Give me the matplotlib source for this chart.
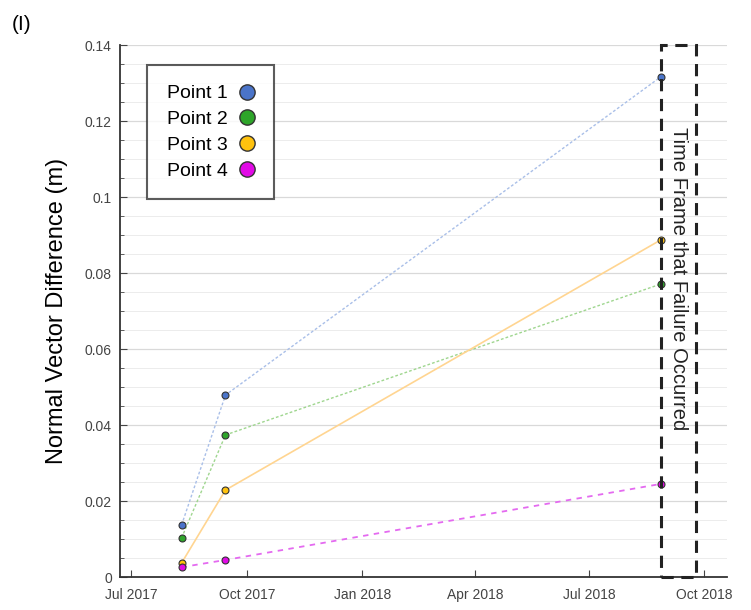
import matplotlib
matplotlib.use("Agg")
import matplotlib.pyplot as plt
import matplotlib.dates as mdates
from matplotlib.ticker import FuncFormatter, MultipleLocator
from matplotlib.patches import Rectangle
import datetime as dt

# survey dates
dates = [dt.date(2017, 8, 10), dt.date(2017, 9, 14), dt.date(2018, 8, 27)]

point1 = [0.0137, 0.0479, 0.1316]
point2 = [0.0103, 0.0374, 0.0771]
point3 = [0.0037, 0.0229, 0.0887]
point4 = [0.0026, 0.0045, 0.0245]

labels = ["Point 1", "Point 2", "Point 3", "Point 4"]
series = [point1, point2, point3, point4]
marker_colors = ["#4a74c9", "#2ea52a", "#ffc20e", "#e10ae6"]
line_colors = ["#a9bfe8", "#9fd68f", "#ffd591", "#e46af0"]
line_styles = [(0, (2, 1.5)), (0, (2, 1.5)), "-", (0, (3, 3))]
line_widths = [1.0, 1.0, 1.2, 1.3]

fail_start = dt.date(2018, 8, 27)
fail_end = dt.date(2018, 9, 24)

plt.rcParams['font.family'] = ['Liberation Sans', 'DejaVu Sans']

fig = plt.figure(figsize=(7.51, 6.10), dpi=100)
ax = fig.add_axes([0.160, 0.054, 0.808, 0.872])

for vals, lab, mc, lc, ls, lw in zip(series, labels, marker_colors, line_colors, line_styles, line_widths):
    ax.plot(dates, vals, color=lc, linestyle=ls, linewidth=lw, zorder=2)
    ax.plot(dates, vals, linestyle="none", marker="o", markersize=5,
            markerfacecolor=mc, markeredgecolor="#333333", markeredgewidth=0.8, zorder=3)

# legend handles: marker only
handles = [ax.plot([], [], linestyle="none", marker="o", markersize=11,
                   markerfacecolor=mc, markeredgecolor="#333333", markeredgewidth=1.0)[0]
           for mc in marker_colors]
leg = ax.legend(handles, labels, loc="upper left", bbox_to_anchor=(0.045, 0.962),
                borderaxespad=0, markerfirst=False, fontsize=14, frameon=True,
                fancybox=False, edgecolor="#333333", handlelength=0.8,
                handletextpad=0.6, labelspacing=0.42, borderpad=1.0)
leg.get_frame().set_linewidth(1.5)

# failure time frame box
x0 = mdates.date2num(fail_start)
x1 = mdates.date2num(fail_end)
rect = Rectangle((x0, 0), x1 - x0, 0.14, fill=False, edgecolor="#222222",
                 linestyle=(0, (4, 2.5)), linewidth=2.2, zorder=4, clip_on=False)
ax.add_patch(rect)
ax.text((x0 + x1) / 2, 0.0785, "Time Frame that Failure Occurred", rotation=-90,
        ha="center", va="center", fontsize=14.5, color="#222222")

ax.set_xlim(dt.date(2017, 6, 22), dt.date(2018, 10, 19))
ax.set_ylim(0, 0.14)

ax.xaxis.set_major_locator(mdates.MonthLocator(bymonth=[1, 4, 7, 10]))
ax.xaxis.set_major_formatter(mdates.DateFormatter("%b %Y"))
ax.yaxis.set_major_locator(MultipleLocator(0.02))
ax.yaxis.set_minor_locator(MultipleLocator(0.005))
ax.yaxis.set_major_formatter(FuncFormatter(lambda v, p: "%g" % round(v, 4)))

ax.grid(True, axis="y", which="major", color="#d9d9d9", linewidth=0.9)
ax.grid(True, axis="y", which="minor", color="#ececec", linewidth=0.7)
ax.set_axisbelow(True)

ax.tick_params(axis="both", which="both", direction="in", labelsize=10, colors="#444444")
ax.tick_params(axis="both", which="major", length=5)
ax.tick_params(axis="x", which="major", pad=8)
ax.tick_params(axis="y", which="major", pad=6)
ax.tick_params(axis="y", which="minor", length=3)
for side in ["top", "right"]:
    ax.spines[side].set_visible(False)
for side in ["left", "bottom"]:
    ax.spines[side].set_color("#333333")
    ax.spines[side].set_linewidth(1.3)

ax.set_ylabel("Normal Vector Difference (m)", fontsize=17, labelpad=12)

fig.text(0.015, 0.975, "(I)", fontsize=15, ha="left", va="top")

fig.savefig("out.png", dpi=100)
